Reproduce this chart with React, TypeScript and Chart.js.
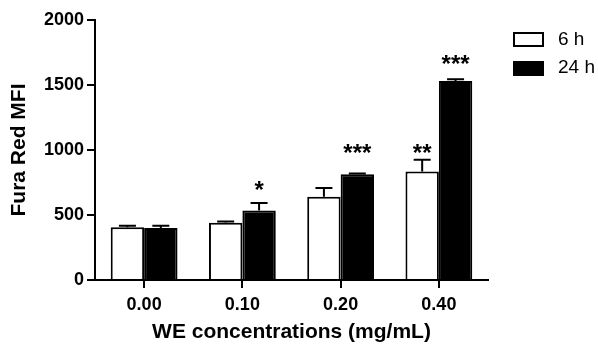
import React, { useEffect, useRef } from "react";
import { Chart, registerables } from "chart.js";

Chart.register(...registerables);

const categories = ["0.00", "0.10", "0.20", "0.40"];
const seriesNames = ["6 h", "24 h"];
const values6h = [405, 440, 640, 835];
const errors6h = [12, 10, 68, 90];
const values24h = [400, 535, 813, 1530];
const errors24h = [18, 58, 6, 15];
const signif6h = ["", "", "", "**"];
const signif24h = ["", "*", "***", "***"];
const signifLevel6h = [0, 0, 0, 1023];
const signifLevel24h = [0, 738, 1023, 1708];
const yMin = 0;
const yMax = 2000;
const yStep = 500;

const FAMILY = "'Liberation Sans', Arial, sans-serif";

const overlayPlugin = {
  id: "overlay",
  afterDatasetsDraw(chart: any) {
    const ctx = chart.ctx;
    const y = chart.scales.y;
    const errs = [errors6h, errors24h];
    const sig = [signif6h, signif24h];
    const lvl = [signifLevel6h, signifLevel24h];
    ctx.save();
    ctx.strokeStyle = "#000";
    ctx.lineWidth = 2;
    for (let di = 0; di < 2; di++) {
      const meta = chart.getDatasetMeta(di);
      meta.data.forEach((bar: any, i: number) => {
        const v = chart.data.datasets[di].data[i] as number;
        const top = y.getPixelForValue(v);
        const capY = y.getPixelForValue(v + errs[di][i]);
        ctx.beginPath();
        ctx.moveTo(bar.x, top);
        ctx.lineTo(bar.x, capY);
        ctx.moveTo(bar.x - 8.5, capY);
        ctx.lineTo(bar.x + 8.5, capY);
        ctx.stroke();
        if (sig[di][i]) {
          const fs = 24;
          ctx.font = `bold ${fs}px ${FAMILY}`;
          ctx.fillStyle = "#000";
          ctx.textAlign = "center";
          ctx.textBaseline = "alphabetic";
          const cy = y.getPixelForValue(lvl[di][i]);
          ctx.fillText(sig[di][i], bar.x, cy + 0.57 * fs);
        }
      });
    }
    ctx.restore();
  },
  afterDraw(chart: any) {
    const ctx = chart.ctx;
    const area = chart.chartArea;
    const x0 = area.right + 25;
    ctx.save();
    ctx.lineWidth = 2;
    ctx.strokeStyle = "#000";
    ctx.fillStyle = "#fff";
    ctx.fillRect(x0 + 1, 33, 29, 13);
    ctx.strokeRect(x0 + 1, 33, 29, 13);
    ctx.fillStyle = "#000";
    ctx.fillRect(x0, 61, 31, 15);
    ctx.font = `19px ${FAMILY}`;
    ctx.textAlign = "left";
    ctx.textBaseline = "middle";
    ctx.fillText(seriesNames[0], x0 + 45, 40);
    ctx.fillText(seriesNames[1], x0 + 45, 68);
    ctx.restore();
  },
};

export default function App() {
  const ref = useRef<HTMLCanvasElement | null>(null);
  useEffect(() => {
    if (!ref.current) return;
    const chart = new Chart(ref.current, {
      type: "bar",
      data: {
        labels: categories,
        datasets: [
          {
            label: seriesNames[0],
            data: values6h,
            backgroundColor: "#fff",
            borderColor: "#000",
            borderWidth: 2,
            borderSkipped: "start",
            barPercentage: 1,
            categoryPercentage: 0.68,
          },
          {
            label: seriesNames[1],
            data: values24h,
            backgroundColor: "#000",
            borderColor: "#000",
            borderWidth: 2,
            borderSkipped: "start",
            barPercentage: 1,
            categoryPercentage: 0.68,
          },
        ],
      },
      options: {
        responsive: false,
        animation: false,
        layout: { padding: { left: 0, right: 110, top: 20, bottom: 0 } },
        plugins: { legend: { display: false }, tooltip: { enabled: false } },
        scales: {
          x: {
            grid: {
              display: true,
              drawOnChartArea: false,
              drawTicks: true,
              tickLength: 8,
              offset: false,
              color: "#000",
              lineWidth: 2,
            },
            border: { display: true, color: "#000", width: 2 },
            ticks: {
              color: "#000",
              font: { family: FAMILY, size: 18, weight: "bold" },
              padding: 6,
            },
            title: {
              display: true,
              text: "WE concentrations (mg/mL)",
              color: "#000",
              font: { family: FAMILY, size: 21, weight: "bold" },
              padding: { top: 0, bottom: 0 },
            },
            afterFit: (s: any) => {
              s.height = 65;
            },
          },
          y: {
            min: yMin,
            max: yMax,
            ticks: {
              stepSize: yStep,
              color: "#000",
              font: { family: FAMILY, size: 18, weight: "bold" },
              padding: 3,
              callback: (v: any) => String(v),
            },
            grid: {
              drawOnChartArea: false,
              drawTicks: true,
              tickLength: 8,
              color: "#000",
              lineWidth: 2,
            },
            border: { display: true, color: "#000", width: 2 },
            title: {
              display: true,
              text: "Fura Red MFI",
              color: "#000",
              font: { family: FAMILY, size: 21, weight: "bold" },
              padding: { top: 7, bottom: 0 },
            },
            afterFit: (s: any) => {
              s.width = 95;
            },
          },
        },
      },
      plugins: [overlayPlugin],
    });
    return () => chart.destroy();
  }, []);
  return (
    <div style={{ position: "absolute", left: 0, top: 0, width: 598, height: 345, background: "#fff" }}>
      <canvas ref={ref} width={598} height={345} style={{ display: "block" }} />
    </div>
  );
}
